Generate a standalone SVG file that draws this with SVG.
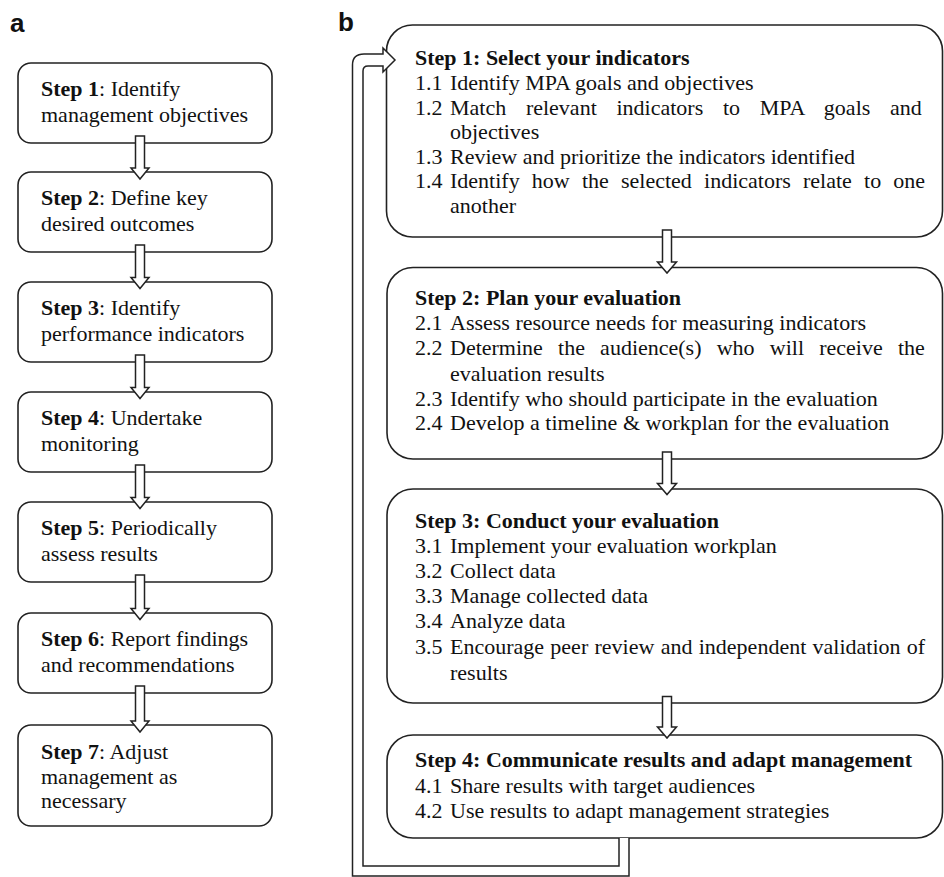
<svg xmlns="http://www.w3.org/2000/svg" width="944" height="877" viewBox="0 0 944 877">
<defs>
<style>
.box{fill:#fff;stroke:#222;stroke-width:1.6}
.arr{fill:#fff;stroke:#222;stroke-width:1.5;stroke-linejoin:miter}
.t{font-family:"Liberation Serif","Times New Roman",serif;font-size:22px;fill:#111}
.b{font-weight:bold}
.lbl{font-family:"Liberation Sans",Arial,sans-serif;font-size:26px;font-weight:bold;fill:#111}
</style>
</defs>
<rect width="944" height="877" fill="#fff"/>
<text class="lbl" x="10" y="32">a</text>
<text class="lbl" x="338" y="31">b</text>

<!-- Panel a -->
<g id="a-step1"><rect class="box" x="18" y="63" width="254" height="80" rx="13"/>
<text class="t" x="41" y="96"><tspan class="b">Step 1</tspan>: Identify</text>
<text class="t" x="41" y="121.5">management objectives</text></g>
<g id="a-step2"><rect class="box" x="18" y="172" width="254" height="80" rx="13"/>
<text class="t" x="41" y="205"><tspan class="b">Step 2</tspan>: Define key</text>
<text class="t" x="41" y="230.5">desired outcomes</text></g>
<g id="a-step3"><rect class="box" x="18" y="282" width="254" height="80" rx="13"/>
<text class="t" x="41" y="315"><tspan class="b">Step 3</tspan>: Identify</text>
<text class="t" x="41" y="340.5">performance indicators</text></g>
<g id="a-step4"><rect class="box" x="18" y="392" width="254" height="80" rx="13"/>
<text class="t" x="41" y="425"><tspan class="b">Step 4</tspan>: Undertake</text>
<text class="t" x="41" y="450.5">monitoring</text></g>
<g id="a-step5"><rect class="box" x="18" y="502" width="254" height="80" rx="13"/>
<text class="t" x="41" y="535"><tspan class="b">Step 5</tspan>: Periodically</text>
<text class="t" x="41" y="560.5">assess results</text></g>
<g id="a-step6"><rect class="box" x="18" y="613" width="254" height="80" rx="13"/>
<text class="t" x="41" y="646"><tspan class="b">Step 6</tspan>: Report findings</text>
<text class="t" x="41" y="671.5">and recommendations</text></g>
<g id="a-step7"><rect class="box" x="18" y="725" width="254" height="101" rx="13"/>
<text class="t" x="41" y="759"><tspan class="b">Step 7</tspan>: Adjust</text>
<text class="t" x="41" y="783.5">management as</text>
<text class="t" x="41" y="808">necessary</text></g>

<!-- Panel b -->
<g id="b-step1"><rect class="box" x="386.5" y="25" width="556" height="212" rx="26"/>
<text class="t b" x="415" y="65">Step 1: Select your indicators</text>
<text class="t" x="415" y="90">1.1</text><text class="t" x="450" y="90">Identify MPA goals and objectives</text>
<text class="t" x="415" y="114.5">1.2</text><text class="t" x="450" y="114.5" word-spacing="14.2">Match relevant indicators to MPA goals and</text>
<text class="t" x="450" y="139">objectives</text>
<text class="t" x="415" y="163.5">1.3</text><text class="t" x="450" y="163.5">Review and prioritize the indicators identified</text>
<text class="t" x="415" y="188">1.4</text><text class="t" x="450" y="188" word-spacing="6.7">Identify how the selected indicators relate to one</text>
<text class="t" x="450" y="212.5">another</text></g>

<g id="b-step2"><rect class="box" x="387" y="267.5" width="555.5" height="191.5" rx="26"/>
<text class="t b" x="415" y="305">Step 2: Plan your evaluation</text>
<text class="t" x="415" y="330">2.1</text><text class="t" x="450" y="330">Assess resource needs for measuring indicators</text>
<text class="t" x="415" y="355">2.2</text><text class="t" x="450" y="355" word-spacing="9.7">Determine the audience(s) who will receive the</text>
<text class="t" x="450" y="380.5">evaluation results</text>
<text class="t" x="415" y="405.5">2.3</text><text class="t" x="450" y="405.5">Identify who should participate in the evaluation</text>
<text class="t" x="415" y="430">2.4</text><text class="t" x="450" y="430">Develop a timeline &amp; workplan for the evaluation</text></g>

<g id="b-step3"><rect class="box" x="387" y="489" width="555.5" height="214" rx="26"/>
<text class="t b" x="415" y="528">Step 3: Conduct your evaluation</text>
<text class="t" x="415" y="553">3.1</text><text class="t" x="450" y="553">Implement your evaluation workplan</text>
<text class="t" x="415" y="578">3.2</text><text class="t" x="450" y="578">Collect data</text>
<text class="t" x="415" y="603">3.3</text><text class="t" x="450" y="603">Manage collected data</text>
<text class="t" x="415" y="628">3.4</text><text class="t" x="450" y="628">Analyze data</text>
<text class="t" x="415" y="654">3.5</text><text class="t" x="450" y="654" word-spacing="0.8">Encourage peer review and independent validation of</text>
<text class="t" x="450" y="679.5">results</text></g>

<g id="b-step4"><rect class="box" x="387" y="735" width="555.5" height="103" rx="26"/>
<text class="t b" x="415" y="767">Step 4: Communicate results and adapt management</text>
<text class="t" x="415" y="792.5">4.1</text><text class="t" x="450" y="792.5">Share results with target audiences</text>
<text class="t" x="415" y="817.5">4.2</text><text class="t" x="450" y="817.5">Use results to adapt management strategies</text></g>

<g id="connectors">
<polygon class="arr" points="135.5,136 144.5,136 144.5,168 149,168 140,179 131,168 135.5,168"/>
<polygon class="arr" points="135.5,245 144.5,245 144.5,277.5 149,277.5 140,288.5 131,277.5 135.5,277.5"/>
<polygon class="arr" points="135.5,355 144.5,355 144.5,387.5 149,387.5 140,398.5 131,387.5 135.5,387.5"/>
<polygon class="arr" points="135.5,465 144.5,465 144.5,497.5 149,497.5 140,508.5 131,497.5 135.5,497.5"/>
<polygon class="arr" points="135.5,575 144.5,575 144.5,608.5 149,608.5 140,619.5 131,608.5 135.5,608.5"/>
<polygon class="arr" points="135.5,686 144.5,686 144.5,721 149,721 140,732 131,721 135.5,721"/>

<polygon class="arr" points="662.5,230 671.5,230 671.5,262 676.5,262 667,273 657.5,262 662.5,262"/>
<polygon class="arr" points="662.5,452 671.5,452 671.5,483.5 676.5,483.5 667,494.5 657.5,483.5 662.5,483.5"/>
<polygon class="arr" points="662.5,696.5 671.5,696.5 671.5,727 676.5,727 667,738 657.5,727 662.5,727"/>

<path class="arr" fill="none" d="M629,838 L629,876 L352.5,876 L352.5,65 Q352.5,54 364,54 L383,54 L383,48 L395,60 L383,72 L383,66 L368,66 Q363,66 363,71 L363,866 L619,866 L619,838"/>
</g>
</svg>
